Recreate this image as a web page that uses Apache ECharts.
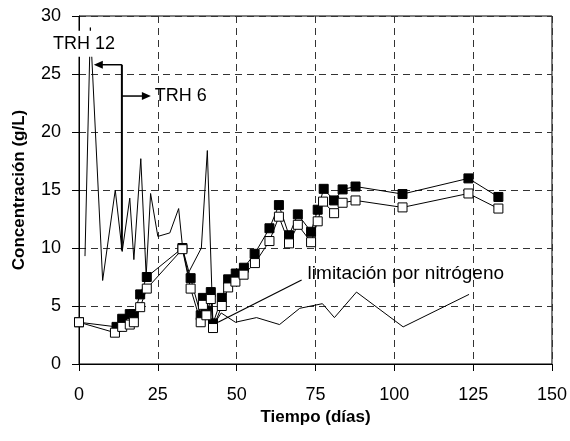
<!DOCTYPE html>
<html>
<head>
<meta charset="utf-8">
<script src="https://cdn.jsdelivr.net/npm/echarts@6/dist/echarts.min.js"></script>
<style>html,body{margin:0;padding:0;background:#fff;}#c{width:570px;height:441px;}</style>
</head>
<body>
<div id="c"></div>
<script>
// ---- data ----
const xTicks = [0, 25, 50, 75, 100, 125, 150];
const yTicks = [0, 5, 10, 15, 20, 25, 30];

const tiempoLinea = [1.9, 3.6, 7.5, 11.5, 13.7, 16.1, 17.4, 19.6, 21.3, 22.7, 25.0, 28.8, 31.6, 32.9, 34.6, 38.8, 40.7, 42.5, 45.1, 49.6, 56.3, 63.6, 70.0, 77.2, 81.0, 88.0, 102.8, 123.7];
const valoresLinea = [9.3, 29.0, 7.2, 15.0, 9.7, 14.3, 9.0, 17.7, 7.6, 14.7, 11.0, 11.3, 13.4, 9.9, 7.8, 10.0, 18.4, 3.3, 4.4, 3.6, 4.0, 3.4, 4.8, 5.2, 4.0, 6.2, 3.2, 6.0];

const tiempoNegro = [0, 11.9, 13.7, 16.1, 17.4, 19.4, 21.5, 32.8, 35.4, 38.6, 39.3, 40.3, 41.8, 42.5, 45.3, 47.3, 49.7, 52.3, 55.7, 60.4, 63.4, 66.6, 69.4, 73.6, 75.7, 77.6, 80.9, 83.6, 87.7, 102.6, 123.5, 133.0];
const valoresNegro = [3.6, 3.2, 3.9, 4.3, 4.3, 6.0, 7.5, 10.0, 7.4, 4.2, 5.7, 4.6, 6.2, 3.5, 5.7, 7.3, 7.8, 8.3, 9.5, 11.7, 13.7, 11.1, 12.9, 11.4, 13.3, 15.1, 14.1, 15.05, 15.3, 14.65, 16.0, 14.4];

const tiempoBlanco = [0, 11.4, 13.7, 16.1, 17.4, 19.4, 21.5, 32.8, 35.4, 38.6, 39.3, 40.4, 41.8, 42.5, 45.3, 47.3, 49.6, 52.2, 55.8, 60.4, 63.4, 66.6, 69.4, 73.6, 75.7, 77.4, 80.9, 83.6, 87.7, 102.6, 123.5, 133.0];
const valoresBlanco = [3.6, 2.7, 3.2, 3.4, 3.6, 4.9, 6.5, 9.9, 6.5, 3.6, 5.1, 4.2, 5.6, 3.1, 5.0, 6.6, 7.1, 7.7, 8.7, 10.6, 12.7, 10.4, 12.0, 10.5, 12.3, 14.0, 13.0, 13.9, 14.1, 13.5, 14.7, 13.4];

// annotation anchors (data coordinates)
const trh12Label = [1.6, 27.6];
const trhVertical = [[13.6, 25.8], [13.6, 9.8]];
const trh12Arrow = [[13.6, 25.8], [4.7, 25.8]];
const trh6Arrow = [[13.6, 23.1], [22.8, 23.1]];
const trh6Label = [24.0, 23.1];
const limitLine = [[44.1, 3.6], [70.6, 7.24]];
const limitLabel = [72.5, 7.75];

const zip = (a, b) => a.map((v, i) => [v, b[i]]);
const FONT = '"Liberation Sans", Arial, sans-serif';

const chart = echarts.init(document.getElementById('c'));
const gridLine = { show: true, lineStyle: { color: '#333', width: 1, type: [7, 5] } };

chart.setOption({
  animation: false,
  backgroundColor: '#fff',
  grid: { left: 79, right: 17, top: 16, bottom: 77, show: true, borderColor: '#000', borderWidth: 1, backgroundColor: 'transparent' },
  xAxis: {
    type: 'value', min: xTicks[0], max: xTicks[xTicks.length - 1], interval: 25,
    name: 'Tiempo (días)', nameLocation: 'middle', nameGap: 45,
    nameTextStyle: { fontFamily: FONT, fontSize: 17, fontWeight: 'bold', color: '#000' },
    axisLine: { lineStyle: { color: '#000', width: 1 } },
    axisTick: { show: true, length: 7, lineStyle: { color: '#000' } },
    axisLabel: { fontFamily: FONT, fontSize: 18, color: '#000', margin: 22 },
    splitLine: gridLine
  },
  yAxis: {
    type: 'value', min: yTicks[0], max: yTicks[yTicks.length - 1], interval: 5,
    name: 'Concentración (g/L)', nameLocation: 'middle', nameGap: 51,
    nameTextStyle: { fontFamily: FONT, fontSize: 17, fontWeight: 'bold', color: '#000' },
    axisLine: { lineStyle: { color: '#000', width: 1 } },
    axisTick: { show: true, length: 7, lineStyle: { color: '#000' } },
    axisLabel: { fontFamily: FONT, fontSize: 18, color: '#000', margin: 18 },
    splitLine: gridLine
  },
  series: [
    { type: 'line', data: zip(tiempoLinea, valoresLinea), symbol: 'none', lineStyle: { color: '#000', width: 1 }, z: 2 },
    { type: 'line', data: zip(tiempoNegro, valoresNegro), symbol: 'rect', symbolSize: 9,
      itemStyle: { color: '#000', borderColor: '#000', borderWidth: 1 }, lineStyle: { color: '#000', width: 1 }, z: 3 },
    { type: 'line', data: zip(tiempoBlanco, valoresBlanco), symbol: 'rect', symbolSize: 9,
      itemStyle: { color: '#fff', borderColor: '#000', borderWidth: 1 }, lineStyle: { color: '#000', width: 1 }, z: 4 }
  ]
});

const P = (p) => chart.convertToPixel({ gridIndex: 0 }, p);
function seg(a, b, w) {
  const p1 = P(a), p2 = P(b);
  return { type: 'line', z: 100, shape: { x1: p1[0], y1: p1[1], x2: p2[0], y2: p2[1] }, style: { stroke: '#000', lineWidth: w } };
}
function head(tipData, dir) {
  const t = P(tipData); const L = 9, H = 4;
  return { type: 'polygon', z: 100, shape: { points: [[t[0], t[1]], [t[0] - dir * L, t[1] - H], [t[0] - dir * L, t[1] + H]] }, style: { fill: '#000' } };
}
function label(pt, text, size, align, bg) {
  const p = P(pt);
  const st = { text: text, x: p[0], y: p[1], align: align, verticalAlign: 'middle', fontFamily: FONT, fontSize: size, fill: '#000' };
  if (bg) { st.backgroundColor = '#fff'; st.padding = [4, 3, 4, 3]; }
  return { type: 'text', z: 110, style: st };
}
const a12 = P(trh12Arrow[1]), a6 = P(trh6Arrow[1]);
chart.setOption({
  graphic: [
    seg(trhVertical[0], trhVertical[1], 2),
    { ...seg(trh12Arrow[0], trh12Arrow[1], 1.5), shape: { x1: P(trh12Arrow[0])[0], y1: P(trh12Arrow[0])[1], x2: a12[0] + 8, y2: a12[1] } },
    head(trh12Arrow[1], -1),
    { ...seg(trh6Arrow[0], trh6Arrow[1], 1.5), shape: { x1: P(trh6Arrow[0])[0], y1: P(trh6Arrow[0])[1], x2: a6[0] - 8, y2: a6[1] } },
    head(trh6Arrow[1], 1),
    label(trh12Label, 'TRH 12', 18, 'center', true),
    label(trh6Label, 'TRH 6', 18, 'left', false),
    seg(limitLine[0], limitLine[1], 1.2),
    label(limitLabel, 'limitación por nitrógeno', 19, 'left', false)
  ]
});
</script>
</body>
</html>
